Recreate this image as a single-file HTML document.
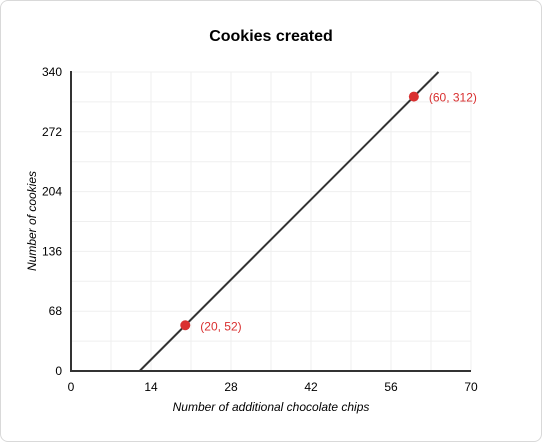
<!DOCTYPE html>
<html><head><meta charset="utf-8"><style>
body{margin:0;background:#fff;font-family:"Liberation Sans",Arial,sans-serif}
#card{position:absolute;left:0;top:0;width:540px;height:440px;border:1px solid #d9d9d9;border-radius:8px;background:#fff}
</style></head><body>
<div id="card"></div>
<svg id="chart" width="542" height="442" style="position:absolute;left:0;top:0">
<text x="271" y="41" text-anchor="middle" font-size="16" font-weight="bold" fill="#000">Cookies created</text>
<g id="grid"></g>
<g id="marks"></g>
<text x="271" y="411" text-anchor="middle" font-size="12" font-style="italic">Number of additional chocolate chips</text>
<text transform="translate(36,221) rotate(-90)" text-anchor="middle" font-size="12" font-style="italic">Number of cookies</text>
</svg>
<script>
const xTicks=[0,14,28,42,56,70];
const yTicks=[0,68,136,204,272,340];
const pointX=[20,60];
const pointY=[52,312];
const lineSlope=6.5, lineIntercept=-78;
const X0=71,X1=471,Y0=371,Y1=72;
const sx=v=>X0+(v-0)/(70-0)*(X1-X0);
const sy=v=>Y0-(v-0)/(340-0)*(Y0-Y1);
const NS="http://www.w3.org/2000/svg";
function mk(t,a,p){const e=document.createElementNS(NS,t);for(const k in a)e.setAttribute(k,a[k]);p.appendChild(e);return e;}
const g=document.getElementById('grid'),m=document.getElementById('marks');
for(let v=7;v<=70;v+=7){const l=mk('line',{x1:sx(v),x2:sx(v),y1:Y1,y2:Y0,stroke:'#efefef','stroke-width':1},g);

}
for(let v=34;v<=340;v+=34){const l=mk('line',{x1:X0,x2:X1,y1:sy(v),y2:sy(v),stroke:'#efefef','stroke-width':1},g);

}
xTicks.forEach(v=>{const t=mk('text',{x:sx(v),y:Y0+20,'text-anchor':'middle','font-size':12},g);t.textContent=v;

});
yTicks.forEach(v=>{const t=mk('text',{x:X0-9,y:sy(v)+4,'text-anchor':'end','font-size':12},g);t.textContent=v;

});
const ya=mk('line',{x1:X0,x2:X0,y1:Y1-1,y2:Y0+1,stroke:'#333','stroke-width':2},g);


const xa=mk('line',{x1:X0-1,x2:X1,y1:Y0,y2:Y0,stroke:'#333','stroke-width':2},g);


const xs=-lineIntercept/lineSlope, xe=(340-lineIntercept)/lineSlope;
const ln=mk('line',{x1:sx(xs),y1:sy(0),x2:sx(xe),y2:sy(340),stroke:'#333','stroke-width':2},m);


pointX.forEach((v,i)=>{const c=mk('circle',{cx:sx(v),cy:sy(pointY[i]),r:5,fill:'#d93030'},m);


const t=mk('text',{x:sx(v)+15,y:sy(pointY[i])+5,'font-size':12,fill:'#d93030'},m);t.textContent='('+v+', '+pointY[i]+')';

});
</script>
</body></html>
